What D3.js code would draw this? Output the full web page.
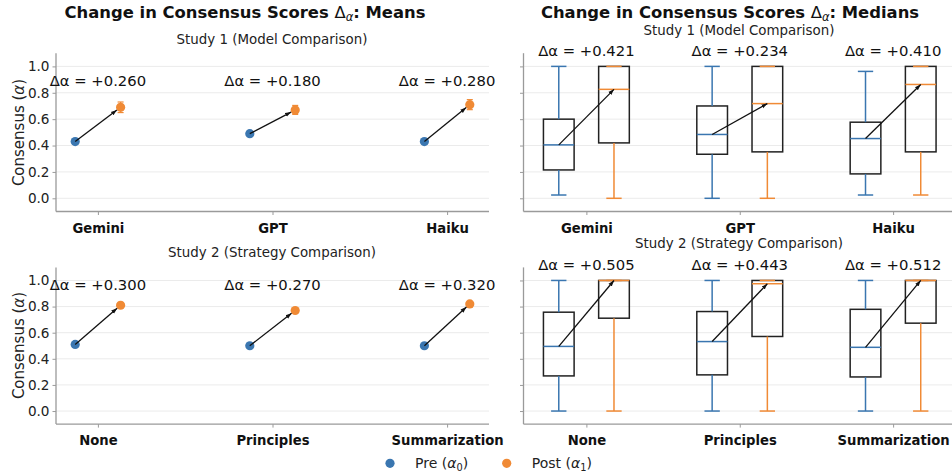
<!DOCTYPE html>
<html>
<head>
<meta charset="utf-8">
<script src="https://cdn.jsdelivr.net/npm/d3@7"></script>
<style>
  body { margin: 0; background: #fff; }
  svg { font-family: 'DejaVu Sans', sans-serif; }
</style>
</head>
<body>
<div id="chart"></div>
<script>
// data
var study1Cats = ['Gemini', 'GPT', 'Haiku']
var study2Cats = ['None', 'Principles', 'Summarization']

var study1PreMean = [0.43, 0.49, 0.43]
var study1PostMean = [0.69, 0.67, 0.71]
var study1PreErr = [0.014, 0.014, 0.014]
var study1PostErr = [0.04, 0.034, 0.038]

var study2PreMean = [0.51, 0.50, 0.50]
var study2PostMean = [0.81, 0.77, 0.82]
var study2PreErr = [0.008, 0.008, 0.008]
var study2PostErr = [0.008, 0.008, 0.008]

// [whisker low, q1, median, q3, whisker high]
var study1PreBox = [[0.025, 0.215, 0.405, 0.60, 1.0], [0.0, 0.334, 0.484, 0.70, 1.0], [0.025, 0.185, 0.453, 0.577, 0.962]]
var study1PostBox = [[0.0, 0.42, 0.826, 1.0, 1.0], [0.0, 0.352, 0.718, 1.0, 1.0], [0.025, 0.352, 0.863, 1.0, 1.0]]
var study2PreBox = [[0.0, 0.269, 0.495, 0.757, 1.0], [0.0, 0.277, 0.532, 0.762, 1.0], [0.0, 0.261, 0.488, 0.779, 1.0]]
var study2PostBox = [[0.0, 0.711, 1.0, 1.0, 1.0], [0.0, 0.571, 0.975, 1.0, 1.0], [0.0, 0.673, 1.0, 1.0, 1.0]]

var yTicks = [0.0, 0.2, 0.4, 0.6, 0.8, 1.0]

var blue = '#3a76b0'
var orange = '#f08a35'
var spine = '#9a9a9a'

var width = 952
var height = 476

var svg = d3.select('#chart').append('svg')
  .attr('width', width).attr('height', height)

var defs = svg.append('defs')
defs.append('marker')
  .attr('id', 'head')
  .attr('viewBox', '0 0 10 10')
  .attr('refX', 10).attr('refY', 5)
  .attr('markerWidth', 6).attr('markerHeight', 6)
  .attr('markerUnits', 'userSpaceOnUse')
  .attr('orient', 'auto')
  .append('path').attr('d', 'M0,1.5 L10,5 L0,8.5 Z').attr('fill', '#111')

// panels
var leftX = [56, 489], rightX = [523.5, 956]
var topY = [211.5, 53.2], botY = [424.1, 267.4]

function makePanel(xr, yr, opts) {
  var x = d3.scaleLinear().domain(opts.xdom).range(xr)
  var y = d3.scaleLinear().domain([-0.1, 1.1]).range(yr)
  var g = svg.append('g')

  // grid
  g.selectAll('.grid').data(yTicks).enter().append('line')
    .attr('x1', xr[0]).attr('x2', xr[1])
    .attr('y1', d => y(d)).attr('y2', d => y(d))
    .attr('stroke', '#ebebeb').attr('stroke-width', 1)

  // y axis
  var yAxis = d3.axisLeft(y).tickValues(yTicks).tickSize(3.5).tickPadding(3)
    .tickFormat(opts.yLabels ? d3.format('.1f') : '')
  var ya = g.append('g').attr('transform', 'translate(' + xr[0] + ',0)').call(yAxis)
  ya.select('.domain').remove()
  ya.selectAll('line').attr('stroke', spine)
  ya.selectAll('text').attr('font-size', 13.6).attr('fill', '#222')
    .attr('font-family', 'DejaVu Sans')

  // x axis
  var xAxis = d3.axisBottom(x).tickValues(d3.range(opts.cats.length))
    .tickSize(3.5).tickPadding(5).tickFormat(i => opts.cats[i])
  var xa = g.append('g').attr('transform', 'translate(0,' + yr[0] + ')').call(xAxis)
  xa.select('.domain').remove()
  xa.selectAll('line').attr('stroke', spine)
  xa.selectAll('text').attr('font-size', 13.2).attr('font-weight', 'bold')
    .attr('fill', '#111').attr('font-family', 'DejaVu Sans').attr('dy', '0.95em')

  // spines
  g.append('line').attr('x1', xr[0]).attr('x2', xr[0]).attr('y1', yr[0]).attr('y2', yr[1])
    .attr('stroke', spine).attr('stroke-width', 1.3)
  g.append('line').attr('x1', xr[0]).attr('x2', xr[1]).attr('y1', yr[0]).attr('y2', yr[0])
    .attr('stroke', spine).attr('stroke-width', 1.3)

  return {g, x, y}
}

function fmtDelta(v) { return 'Δα = +' + v.toFixed(3) }

function drawMeans(p, cats, pre, post, preErr, postErr) {
  var off = 0.13, r = 4.6
  var labelY = d3.max(post.map((v, i) => v + postErr[i])) + 0.14
  cats.forEach((c, i) => {
    var x0 = p.x(i - off), x1 = p.x(i + off)
    var y0 = p.y(pre[i]), y1 = p.y(post[i])
    // error bars
    ;[[x0, pre[i], preErr[i], blue], [x1, post[i], postErr[i], orange]].forEach(e => {
      var yl = p.y(e[1] - e[2]), yh = p.y(e[1] + e[2])
      p.g.append('line').attr('x1', e[0]).attr('x2', e[0]).attr('y1', yl).attr('y2', yh)
        .attr('stroke', e[3]).attr('stroke-width', 1.2)
      ;[yl, yh].forEach(yy => p.g.append('line').attr('x1', e[0] - 3).attr('x2', e[0] + 3)
        .attr('y1', yy).attr('y2', yy).attr('stroke', e[3]).attr('stroke-width', 1.2))
    })
    p.g.append('circle').attr('cx', x0).attr('cy', y0).attr('r', r).attr('fill', blue)
    p.g.append('circle').attr('cx', x1).attr('cy', y1).attr('r', r).attr('fill', orange)
    // arrow
    var dx = x1 - x0, dy = y1 - y0, len = Math.sqrt(dx * dx + dy * dy)
    var s = (len - r) / len
    p.g.append('line').attr('x1', x0).attr('y1', y0)
      .attr('x2', x0 + dx * s).attr('y2', y0 + dy * s)
      .attr('stroke', '#111').attr('stroke-width', 1.3).attr('marker-end', 'url(#head)')
    p.g.append('text').attr('x', p.x(i)).attr('y', p.y(labelY)).attr('dy', '0.36em')
      .attr('text-anchor', 'middle').attr('font-size', 14.8).attr('fill', '#111')
      .text(fmtDelta(post[i] - pre[i]))
  })
}

function drawBoxes(p, cats, preBox, postBox) {
  var off = 0.18, bw = 0.2
  cats.forEach((c, i) => {
    ;[[i - off, preBox[i], blue], [i + off, postBox[i], orange]].forEach(b => {
      var cx = p.x(b[0]), hw = (p.x(bw) - p.x(0)) / 2, s = b[1]
      p.g.append('rect').attr('x', cx - hw).attr('width', hw * 2)
        .attr('y', p.y(s[3])).attr('height', p.y(s[1]) - p.y(s[3]))
        .attr('fill', 'none').attr('stroke', '#222').attr('stroke-width', 1.5)
      p.g.append('line').attr('x1', cx).attr('x2', cx).attr('y1', p.y(s[3])).attr('y2', p.y(s[4]))
        .attr('stroke', b[2]).attr('stroke-width', 1.5)
      p.g.append('line').attr('x1', cx).attr('x2', cx).attr('y1', p.y(s[1])).attr('y2', p.y(s[0]))
        .attr('stroke', b[2]).attr('stroke-width', 1.5)
      ;[s[0], s[4]].forEach(v => p.g.append('line').attr('x1', cx - hw / 2).attr('x2', cx + hw / 2)
        .attr('y1', p.y(v)).attr('y2', p.y(v)).attr('stroke', b[2]).attr('stroke-width', 1.5))
      p.g.append('line').attr('x1', cx - hw).attr('x2', cx + hw)
        .attr('y1', p.y(s[2])).attr('y2', p.y(s[2])).attr('stroke', b[2]).attr('stroke-width', 1.5)
    })
    p.g.append('line').attr('x1', p.x(i - off)).attr('y1', p.y(preBox[i][2]))
      .attr('x2', p.x(i + off)).attr('y2', p.y(postBox[i][2]))
      .attr('stroke', '#111').attr('stroke-width', 1.3).attr('marker-end', 'url(#head)')
    p.g.append('text').attr('x', p.x(i)).attr('y', p.y(1.12)).attr('dy', '0.36em')
      .attr('text-anchor', 'middle').attr('font-size', 14.8).attr('fill', '#111')
      .text(fmtDelta(postBox[i][2] - preBox[i][2]))
  })
}

var p1 = makePanel(leftX, topY, {xdom: [-0.24, 2.24], cats: study1Cats, yLabels: true})
drawMeans(p1, study1Cats, study1PreMean, study1PostMean, study1PreErr, study1PostErr)
var p2 = makePanel(leftX, botY, {xdom: [-0.24, 2.24], cats: study2Cats, yLabels: true})
drawMeans(p2, study2Cats, study2PreMean, study2PostMean, study2PreErr, study2PostErr)
var p3 = makePanel(rightX, topY, {xdom: [-0.41, 2.41], cats: study1Cats, yLabels: false})
drawBoxes(p3, study1Cats, study1PreBox, study1PostBox)
var p4 = makePanel(rightX, botY, {xdom: [-0.41, 2.41], cats: study2Cats, yLabels: false})
drawBoxes(p4, study2Cats, study2PreBox, study2PostBox)

// titles
function title(x, y, word) {
  var t = svg.append('text').attr('x', x).attr('y', y).attr('text-anchor', 'middle')
    .attr('font-size', 16.4).attr('font-weight', 'bold').attr('fill', '#111')
  t.append('tspan').text('Change in Consensus Scores ')
  t.append('tspan').attr('font-weight', 'normal').text('Δ')
  t.append('tspan').attr('font-weight', 'normal').attr('font-style', 'italic')
    .attr('font-size', 11.5).attr('dy', 3).text('α')
  t.append('tspan').attr('dy', -3).text(': ' + word)
}
title(245, 18.3, 'Means')
title(730, 18.3, 'Medians')

function sub(x, y, txt) {
  svg.append('text').attr('x', x).attr('y', y).attr('text-anchor', 'middle')
    .attr('font-size', 13.4).attr('fill', '#222').text(txt)
}
sub(272, 44.3, 'Study 1 (Model Comparison)')
sub(739, 35, 'Study 1 (Model Comparison)')
sub(272, 257.3, 'Study 2 (Strategy Comparison)')
sub(739, 248, 'Study 2 (Strategy Comparison)')

// y labels
;[[132.5], [345.5]].forEach(d => {
  svg.append('text').attr('transform', 'translate(23.5,' + d[0] + ') rotate(-90)')
    .attr('text-anchor', 'middle').attr('font-size', 15).attr('fill', '#222')
    .call(t => {
      t.append('tspan').text('Consensus (')
      t.append('tspan').attr('font-style', 'italic').text('α')
      t.append('tspan').text(')')
    })
})

// legend
var legend = [{label: 'Pre', sub: '0', color: blue, x: 390}, {label: 'Post', sub: '1', color: orange, x: 506.7}]
legend.forEach(l => {
  svg.append('circle').attr('cx', l.x).attr('cy', 463.3).attr('r', 4.6).attr('fill', l.color)
  var t = svg.append('text').attr('x', l.x + 25).attr('y', 468.3).attr('font-size', 14).attr('fill', '#222')
  t.append('tspan').text(l.label + ' (')
  t.append('tspan').attr('font-style', 'italic').text('α')
  t.append('tspan').attr('font-size', 9.8).attr('dy', 2.5).text(l.sub)
  t.append('tspan').attr('dy', -2.5).text(')')
})
</script>
</body>
</html>
